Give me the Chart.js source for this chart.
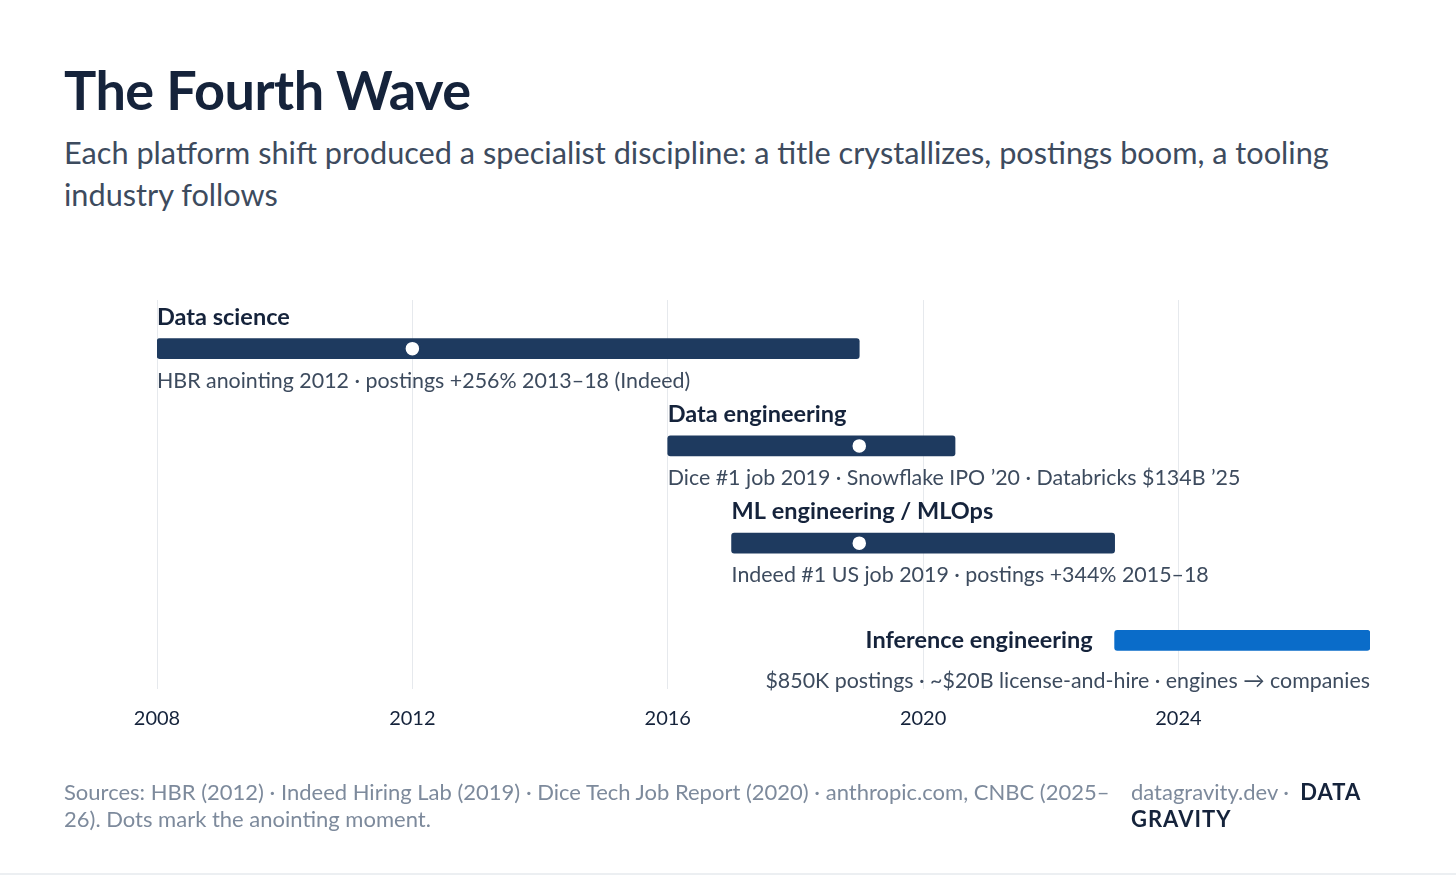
<!DOCTYPE html>
<html>
<head>
<meta charset="utf-8">
<script src="https://cdn.jsdelivr.net/npm/chart.js@4"></script>
<style>
  body { margin: 0; width: 1456px; height: 876px; background: #fff; font-family: Lato, sans-serif; position: relative; overflow: hidden; }
  #title { position: absolute; left: 64px; top: 57px; font-size: 54px; font-weight: 700; color: #15233b; letter-spacing: -0.5px; }
  #sub { position: absolute; left: 64px; top: 132px; width: 1320px; font-size: 30.7px; line-height: 42px; color: #3d4b5e; }
  #chartWrap { position: absolute; left: 0; top: 0; width: 1456px; height: 876px; }
  #src { position: absolute; left: 64px; top: 778px; width: 1050px; font-size: 22px; line-height: 27px; color: #7d8a9c; }
  #brand { position: absolute; left: 1131px; top: 778px; width: 260px; font-size: 22px; line-height: 27px; color: #7d8a9c; }
  #brand b { color: #15233b; letter-spacing: 1px; }
  #rule { position: absolute; left: 0; right: 0; top: 873px; height: 2px; background: #eceff2; }
</style>
</head>
<body>
<div id="title">The Fourth Wave</div>
<div id="sub">Each platform shift produced a specialist discipline: a title crystallizes, postings boom, a tooling industry follows</div>
<div id="chartWrap"><canvas id="c"></canvas></div>
<div id="src">Sources: HBR (2012) · Indeed Hiring Lab (2019) · Dice Tech Job Report (2020) · anthropic.com, CNBC (2025–26). Dots mark the anointing moment.</div>
<div id="brand">datagravity.dev · &nbsp;<b>DATA GRAVITY</b></div>
<div id="rule"></div>
<script>
// ========================================
// Data
// ========================================
const roles = ['Data science', 'Data engineering', 'ML engineering / MLOps', 'Inference engineering'];
const starts = [2008, 2016, 2017, 2023];
const ends = [2019, 2020.5, 2023, 2027];
const anointed = [2012, 2019, 2019, null];
const notes = [
    'HBR anointing 2012 · postings +256% 2013–18 (Indeed)',
    'Dice #1 job 2019 · Snowflake IPO ’20 · Databricks $134B ’25',
    'Indeed #1 US job 2019 · postings +344% 2015–18',
    '$850K postings · ~$20B license-and-hire · engines → companies'
];
const yearTicks = [2008, 2012, 2016, 2020, 2024];

const navy = '#1e3a5f';
const bright = '#0a6cc9';

// labels above / below each bar
const roleLabels = {
    id: 'roleLabels',
    afterDatasetsDraw(chart) {
        const ctx = chart.ctx;
        const x = chart.scales.x, y = chart.scales.y;
        ctx.save();
        roles.forEach((r, i) => {
            const yc = y.getPixelForValue(i);
            const last = i === roles.length - 1;
            ctx.font = '700 23.5px Lato';
            ctx.fillStyle = '#15233b';
            if (last) {
                ctx.textAlign = 'right';
                ctx.textBaseline = 'middle';
                ctx.fillText(r, x.getPixelForValue(starts[i]) - 22, yc);
            } else {
                ctx.textAlign = 'left';
                ctx.textBaseline = 'alphabetic';
                ctx.fillText(r, x.getPixelForValue(starts[i]), yc - 24);
            }
            ctx.font = '21.4px Lato';
            ctx.fillStyle = '#3d4b5e';
            ctx.textBaseline = 'alphabetic';
            if (last) {
                ctx.textAlign = 'right';
                ctx.fillText(notes[i], x.getPixelForValue(ends[i]), yc + 48);
            } else {
                ctx.textAlign = 'left';
                ctx.fillText(notes[i], x.getPixelForValue(starts[i]), yc + 39);
            }
        });
        ctx.restore();
    }
};

new Chart(document.getElementById('c'), {
    type: 'bar',
    data: {
        labels: roles,
        datasets: [
            {
                type: 'scatter',
                data: anointed.map((v, i) => v === null ? null : { x: v, y: roles[i] }).filter(d => d),
                pointRadius: 7.5,
                pointBackgroundColor: '#fff',
                pointBorderColor: navy,
                pointBorderWidth: 1.5,
                order: 0
            },
            {
                data: starts.map((s, i) => [s, ends[i]]),
                backgroundColor: roles.map((r, i) => i === roles.length - 1 ? bright : navy),
                borderRadius: 3,
                borderSkipped: false,
                barThickness: 20,
                order: 1
            }
        ]
    },
    options: {
        indexAxis: 'y',
        responsive: true,
        maintainAspectRatio: false,
        animation: false,
        layout: { padding: { left: 157, right: 86, top: 300, bottom: 127 } },
        plugins: { legend: { display: false }, tooltip: { enabled: false } },
        scales: {
            x: {
                type: 'linear',
                min: 2008,
                max: 2027,
                afterBuildTicks: (axis) => { axis.ticks = yearTicks.map(v => ({ value: v })); },
                grid: { color: '#e6e9ed', drawTicks: false },
                border: { display: false },
                ticks: { color: '#15233b', font: { family: 'Lato', size: 20 }, padding: 18, callback: v => String(v) }
            },
            y: {
                type: 'category',
                display: false
            }
        }
    },
    plugins: [roleLabels]
});
</script>
</body>
</html>
